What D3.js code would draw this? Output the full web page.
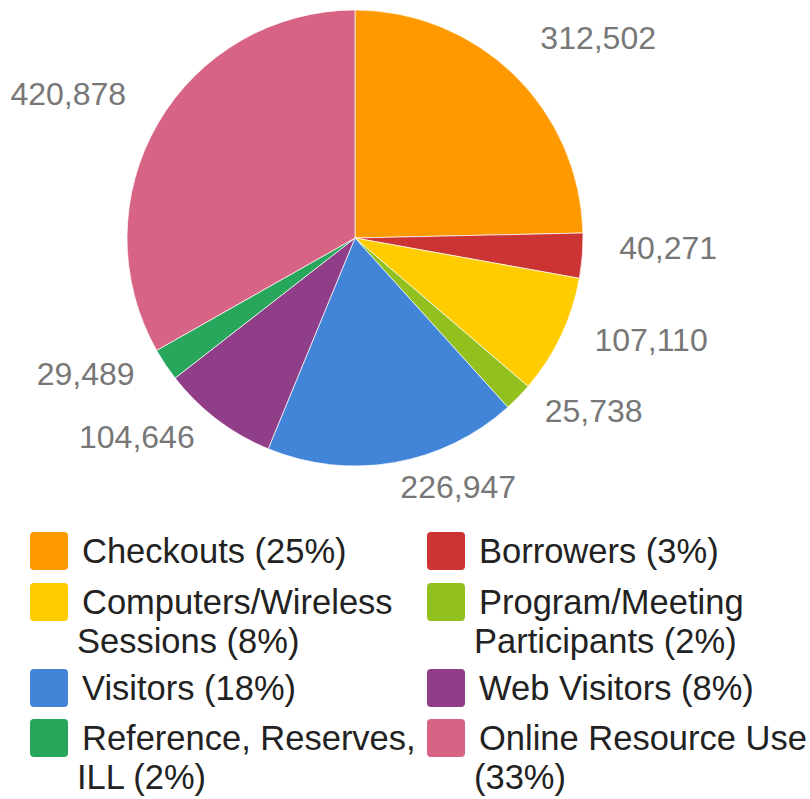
<!DOCTYPE html>
<html>
<head>
<meta charset="utf-8">
<script src="https://cdn.jsdelivr.net/npm/d3@7"></script>
<style>
  body { margin: 0; background: #fff; }
  svg { display: block; }
</style>
</head>
<body>
<div id="chart"></div>
<script>
const categories = ["Checkouts", "Borrowers", "Computers/Wireless Sessions", "Program/Meeting Participants",
                    "Visitors", "Web Visitors", "Reference, Reserves, ILL", "Online Resource Use"];
const values = [312502, 40271, 107110, 25738, 226947, 104646, 29489, 420878];
const colors = ["#ff9900", "#cc3333", "#ffcc00", "#92c11f", "#4184d8", "#913e88", "#28a65c", "#d76484"];
// legend lines as wrapped in the picture, two columns
const legendLines = [
  ["Checkouts (25%)"], ["Borrowers (3%)"],
  ["Computers/Wireless", "Sessions (8%)"], ["Program/Meeting", "Participants (2%)"],
  ["Visitors (18%)"], ["Web Visitors (8%)"],
  ["Reference, Reserves,", "ILL (2%)"], ["Online Resource Use", "(33%)"]
];

const width = 810, height = 799;
const cx = 355, cy = 238, radius = 228;

const svg = d3.select("#chart")
  .append("svg")
    .attr("width", width)
    .attr("height", height);

const data = categories.map((c, i) => ({ name: c, value: values[i], color: colors[i] }));

const pie = d3.pie().value(d => d.value).sort(null);
const arc = d3.arc().innerRadius(0).outerRadius(radius);
const arcs = pie(data);

const g = svg.append("g").attr("transform", `translate(${cx},${cy})`);

g.selectAll("path")
  .data(arcs)
  .join("path")
    .attr("d", arc)
    .attr("fill", d => d.data.color)
    .attr("stroke", "#fff")
    .attr("stroke-width", 0.7);

// value labels outside the pie
const fmt = d3.format(",");
g.selectAll("text.val")
  .data(arcs)
  .join("text")
    .attr("class", "val")
    .each(function(d) {
      const a = (d.startAngle + d.endAngle) / 2;
      const ux = Math.sin(a), uy = -Math.cos(a);
      d3.select(this)
        .attr("x", ux * 265)
        .attr("y", uy * 264)
        .attr("text-anchor", ux >= 0 ? "start" : "end");
    })
    .attr("font-family", "Arial, 'Liberation Sans', sans-serif")
    .attr("font-size", 32)
    .attr("fill", "#777")
    .text(d => fmt(d.data.value));

// legend
const colX = [30, 427];
const rowY = [532, 583, 669, 719];
const legend = svg.append("g");
data.forEach((d, i) => {
  const col = i % 2, row = Math.floor(i / 2);
  const x = colX[col], y = rowY[row];
  legend.append("rect")
    .attr("x", x).attr("y", y)
    .attr("width", 38).attr("height", 38)
    .attr("rx", 4)
    .attr("fill", d.color);
  legendLines[i].forEach((line, j) => {
    legend.append("text")
      .attr("x", x + (j === 0 ? 52 : 47))
      .attr("y", y + 31 + j * 39)
      .attr("font-family", "Arial, 'Liberation Sans', sans-serif")
      .attr("font-size", 34.5)
      .attr("fill", "#222")
      .text(line);
  });
});
</script>
</body>
</html>
